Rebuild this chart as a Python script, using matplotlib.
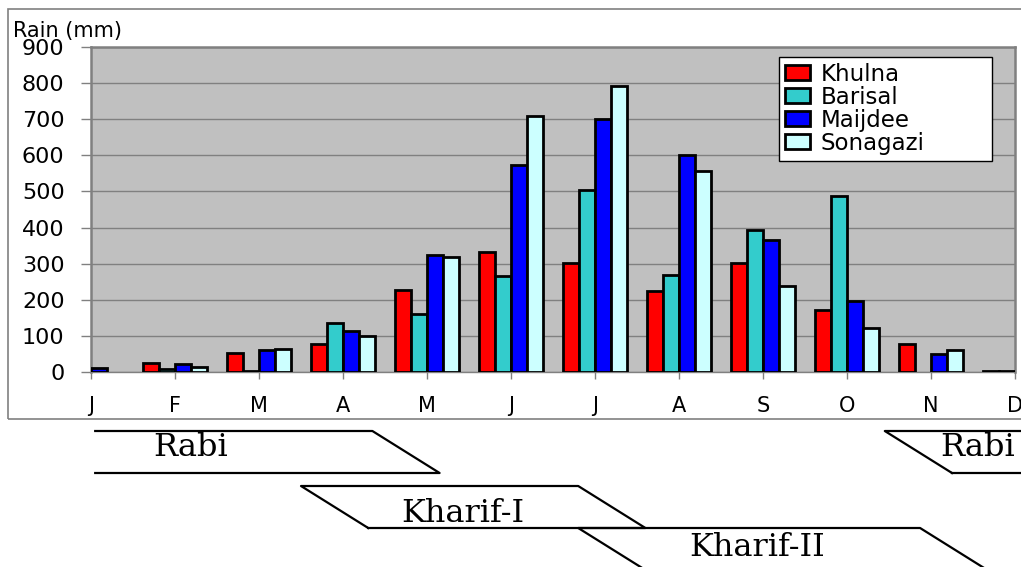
import matplotlib
matplotlib.use("Agg")
import matplotlib.pyplot as plt
import matplotlib.transforms as mtransforms
from matplotlib.patches import Rectangle
import numpy as np

months = ["J", "F", "M", "A", "M", "J", "J", "A", "S", "O", "N", "D"]
stations = ["Khulna", "Barisal", "Maijdee", "Sonagazi"]
khulna = [10, 25, 54, 78, 226, 332, 303, 223, 303, 173, 77, 2]
barisal = [8, 9, 3, 136, 160, 265, 505, 268, 392, 487, 0, 2]
maijdee = [11, 21, 60, 114, 323, 572, 702, 602, 365, 197, 51, 0]
sonagazi = [0, 14, 63, 99, 318, 708, 791, 557, 237, 122, 62, 0]
colors = ["#ff0000", "#33cccc", "#0000ff", "#ccffff"]

# cropping seasons, in month index units (0 = Jan)
season_names = ["Rabi", "Kharif-I", "Kharif-II", "Rabi"]
season_start = [0.05, 2.5, 5.8, 9.45]
season_end = [3.35, 5.8, 9.87, 12.5]
season_row = [0, 1, 2, 0]

fig = plt.figure(figsize=(10.21, 5.67), dpi=100)
fig.patch.set_facecolor("white")

# outer chart frame
fig.add_artist(Rectangle((8 / 1021, 1 - 419 / 567), 1.2, 410 / 567,
                         transform=fig.transFigure, fill=False,
                         edgecolor="#808080", lw=1.2))

ax = fig.add_axes([91 / 1021, 1 - 372 / 567, 924 / 1021, 325 / 567])
ax.set_facecolor("#c0c0c0")

x = np.arange(len(months))
w = 0.19
series = [khulna, barisal, maijdee, sonagazi]
for i, (vals, name, c) in enumerate(zip(series, stations, colors)):
    vals = np.array(vals)
    keep = vals > 0  # empty months get no bar outline
    ax.bar(x[keep] + (i - 1.5) * w, vals[keep], w, color=c, edgecolor="black",
           linewidth=2, label=name, zorder=3)

ax.set_xlim(0, 11)
ax.set_ylim(0, 900)
ax.set_yticks(range(0, 901, 100))
ax.set_xticks(x)
ax.set_xticklabels(months)
ax.yaxis.grid(True, color="#808080", lw=1, zorder=0)
ax.set_axisbelow(True)

for s in ["top", "right", "left"]:
    ax.spines[s].set_color("#808080")
    ax.spines[s].set_linewidth(1.8)
ax.spines["bottom"].set_color("#808080")
ax.spines["bottom"].set_linewidth(1)

ax.tick_params(axis="y", direction="out", length=7, width=1, color="#808080",
               pad=12, labelsize=16)
ax.tick_params(axis="x", direction="out", length=5, width=1, color="#808080",
               pad=12, labelsize=15)

fig.text(13 / 1021, 1 - 31 / 567, "Rain (mm)", fontsize=15, ha="left", va="center")

leg = ax.legend(loc="upper left", bbox_to_anchor=(0.745, 0.649, 0.23, 0.32),
                mode="expand", fontsize=16.5, frameon=True, fancybox=False,
                borderaxespad=0, labelspacing=0.0, handlelength=1.1,
                handleheight=0.62, handletextpad=0.45, borderpad=0.25)
leg.get_frame().set_edgecolor("black")
leg.get_frame().set_linewidth(1)
leg.get_frame().set_alpha(1)

# season bands drawn below the chart
trans = mtransforms.blended_transform_factory(ax.transData, fig.transFigure)
row_top = [1 - 431 / 567, 1 - 486 / 567, 1 - 528 / 567]
row_h = 42 / 567
slant = 0.8
label_x = [1.19, 4.43, 7.93, 10.55]
label_dy = [16 / 567, 27 / 567, 19 / 567, 16 / 567]
for name, a, b, r, lx, dy in zip(season_names, season_start, season_end,
                                 season_row, label_x, label_dy):
    top = row_top[r]
    bot = top - row_h
    if a <= 0.05:
        xs, ys = [a, b, b + slant, a], [top, top, bot, bot]
    else:
        xs = [a + slant, a, b, b + slant, a + slant]
        ys = [bot, top, top, bot, bot]
    ax.plot(xs, ys, color="black", lw=1.6, transform=trans, clip_on=False)
    ax.text(lx, top - dy, name, transform=trans, ha="center",
            va="center", family="DejaVu Serif", fontsize=23)

fig.savefig("out.png", dpi=100)
